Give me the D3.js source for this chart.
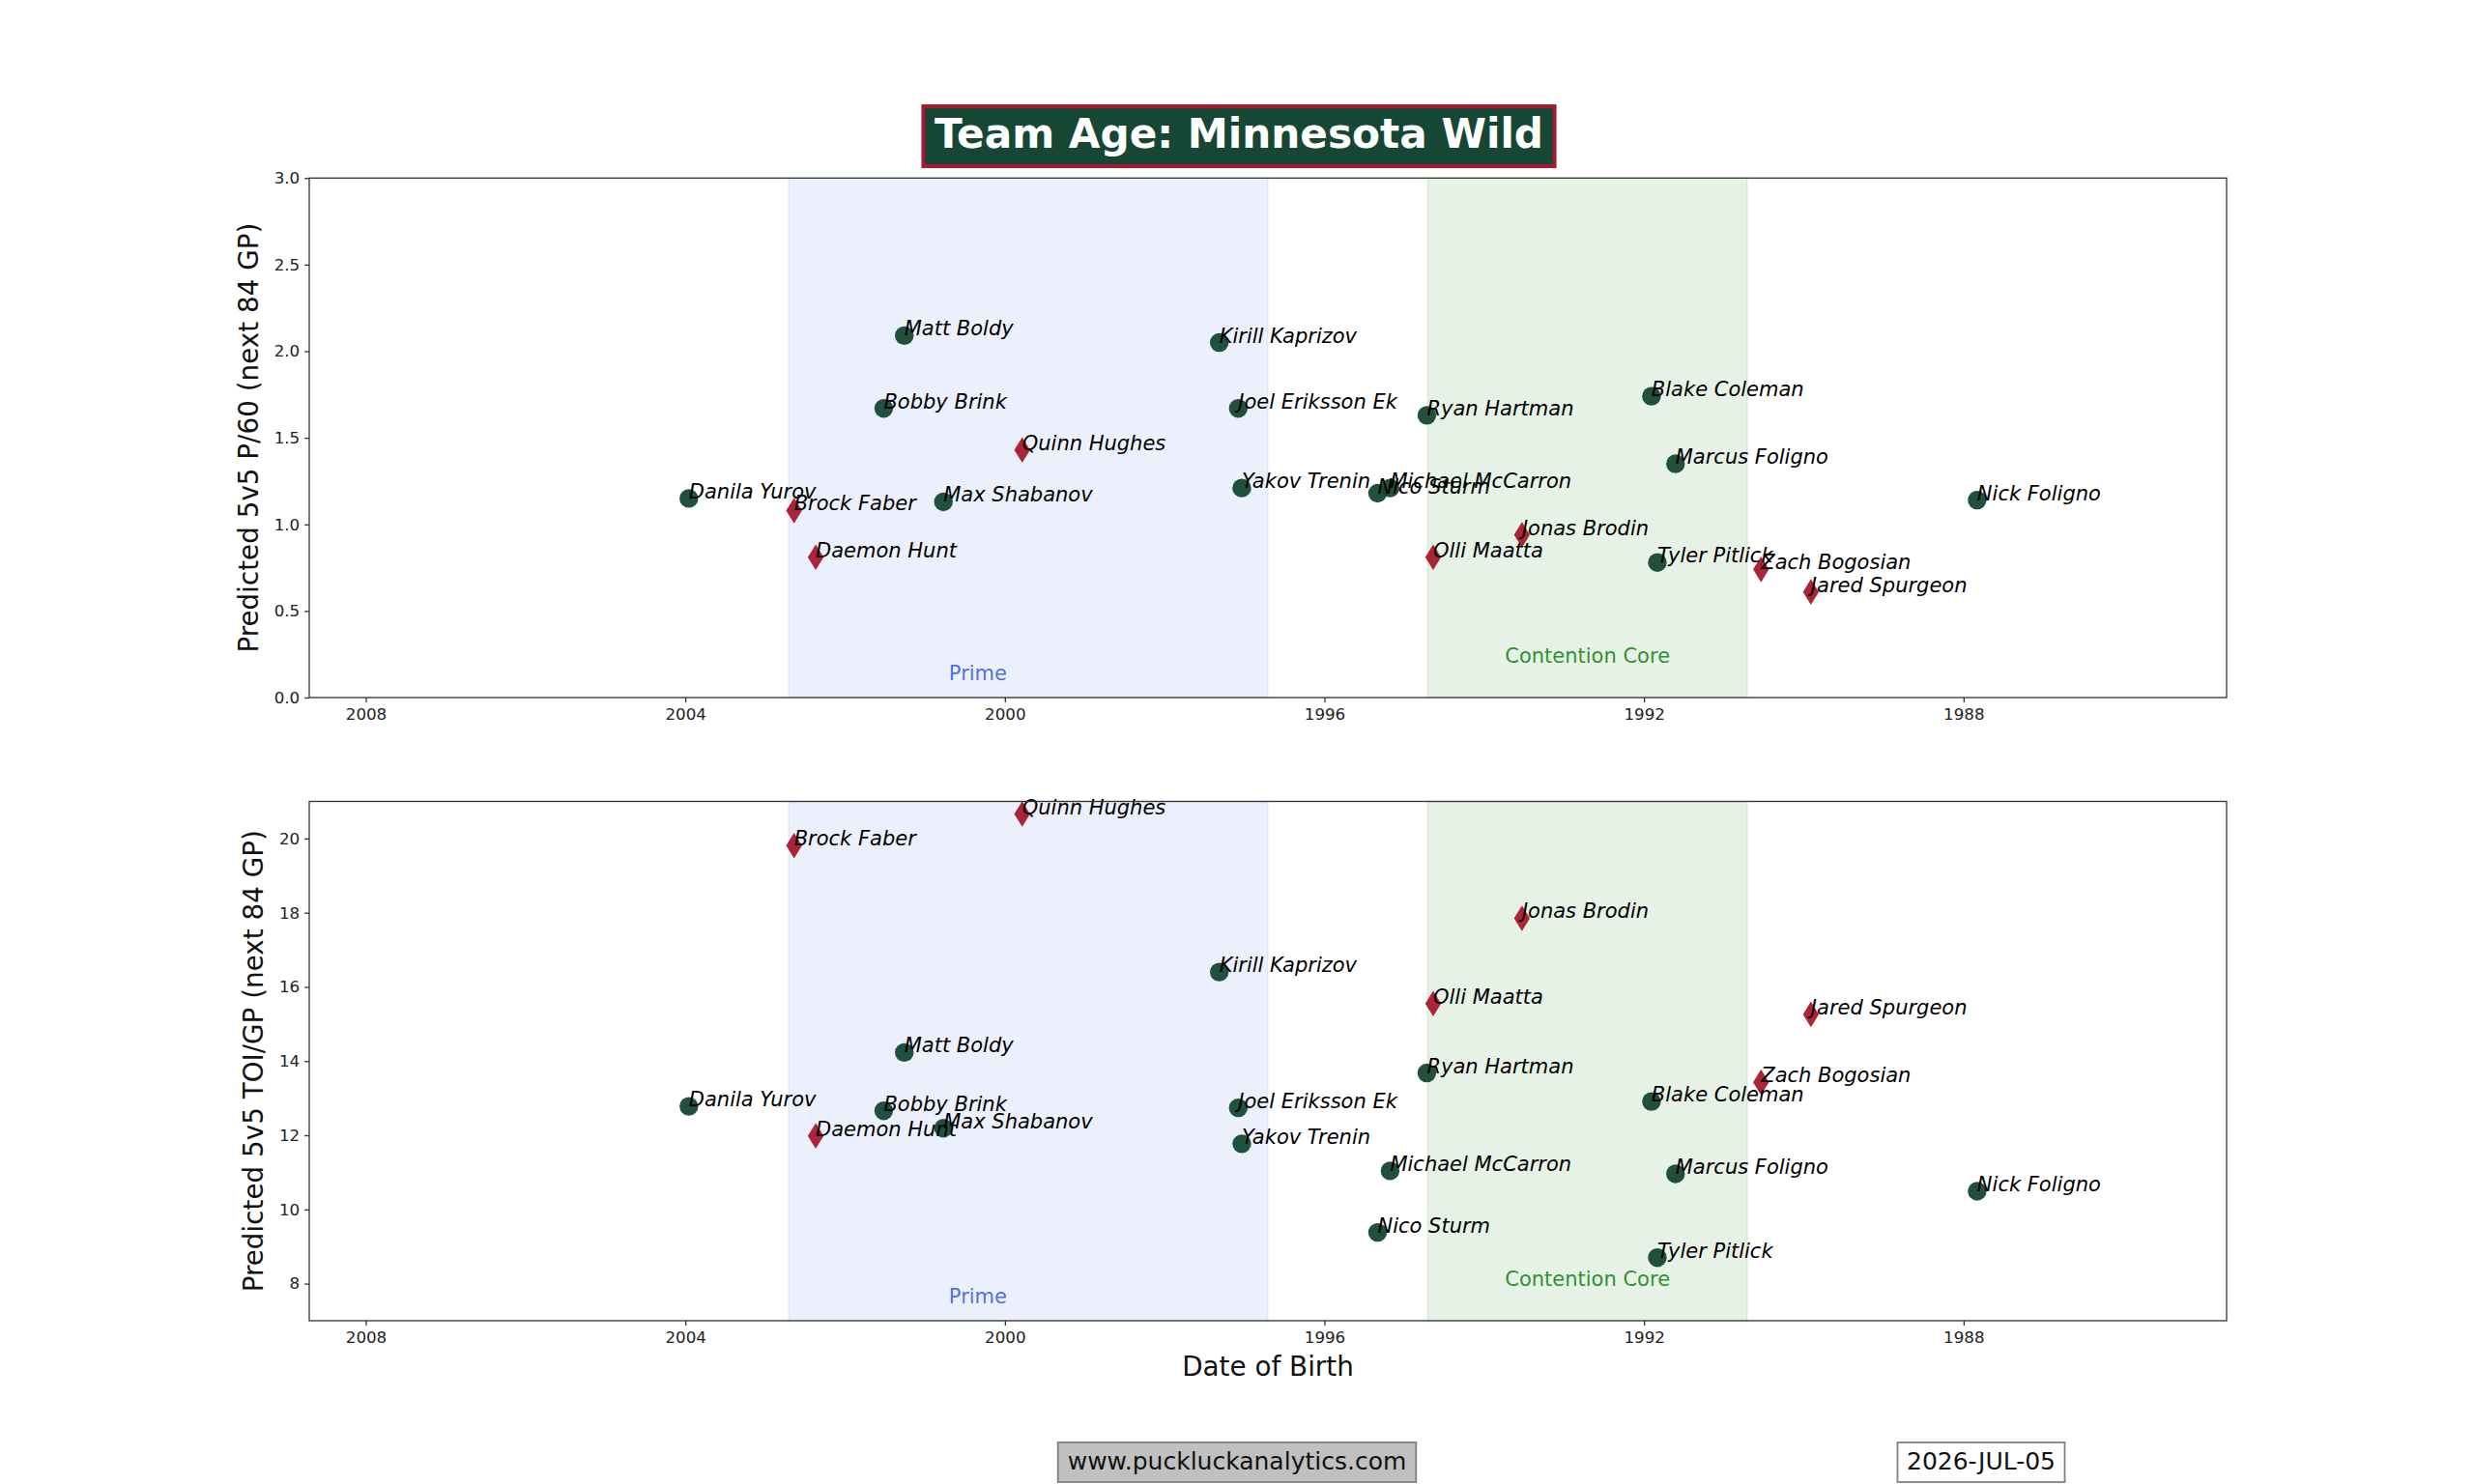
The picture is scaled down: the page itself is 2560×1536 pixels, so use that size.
<!DOCTYPE html>
<html>
<head>
<meta charset="utf-8">
<script src="https://cdn.jsdelivr.net/npm/d3@7"></script>
<style>
  body { margin: 0; background: #fff; }
  svg { display: block; font-family: "DejaVu Sans", sans-serif; }
</style>
</head>
<body>
<div id="chart"></div>
<script>
// roster, birth dates and the two model outputs
const players = ["Danila Yurov", "Brock Faber", "Daemon Hunt", "Bobby Brink", "Matt Boldy", "Max Shabanov",
  "Quinn Hughes", "Kirill Kaprizov", "Joel Eriksson Ek", "Yakov Trenin", "Nico Sturm", "Michael McCarron",
  "Ryan Hartman", "Olli Maatta", "Jonas Brodin", "Blake Coleman", "Tyler Pitlick", "Marcus Foligno",
  "Zach Bogosian", "Jared Spurgeon", "Nick Foligno"];
const positions = ["F", "D", "D", "F", "F", "F", "D", "F", "F", "F", "F", "F", "F", "D", "D", "F", "F", "F", "D", "D", "F"];
const birthDates = ["2003-12-16", "2002-08-22", "2002-05-15", "2001-07-08", "2001-04-05", "2000-10-08",
  "1999-10-14", "1997-04-26", "1997-01-29", "1997-01-13", "1995-05-03", "1995-03-07",
  "1994-09-20", "1994-08-22", "1993-07-12", "1991-11-28", "1991-11-01", "1991-08-10",
  "1990-07-15", "1989-11-29", "1987-10-31"];
const p60 = [1.15, 1.08, 0.81, 1.67, 2.09, 1.13, 1.43, 2.05, 1.67, 1.21, 1.18, 1.21,
  1.63, 0.81, 0.94, 1.74, 0.78, 1.35, 0.74, 0.61, 1.14];
const toi = [12.78, 19.81, 11.98, 12.66, 14.23, 12.19, 20.66, 16.40, 12.74, 11.77, 9.38, 11.04,
  13.68, 15.55, 17.85, 12.91, 8.70, 10.96, 13.43, 15.26, 10.49];

const tickYears = [2008, 2004, 2000, 1996, 1992, 1988];
const ageLimits = [18, 42];
const bandNames = ["Prime", "Contention Core"];
const bandAges = [[24, 30], [32, 36]];
const ageRefDate = "2026-09-16";

const title = "Team Age: Minnesota Wild";
const siteText = "www.puckluckanalytics.com";
const dateText = "2026-JUL-05";

const W = 2560, H = 1536;
const green = "#154734", red = "#a6192e";
const ref = new Date(ageRefDate);
const ageToDate = a => new Date(ref.getTime() - a * 365.25 * 864e5);

const rows = players.map((name, i) => ({
  name, pos: positions[i], dob: new Date(birthDates[i]), p60: p60[i], toi: toi[i]
}));

const svg = d3.select("#chart").append("svg").attr("width", W).attr("height", H);

const x = d3.scaleTime().domain(ageLimits.map(ageToDate)).range([320, 2304]);

const panels = [
  { key: "p60", top: 184.3, bottom: 722, domain: [0, 3], ticks: d3.range(0, 3.01, 0.5), fmt: d3.format(".1f"),
    label: "Predicted 5v5 P/60 (next 84 GP)", labelX: 267 },
  { key: "toi", top: 829.5, bottom: 1367, domain: [7, 21], ticks: d3.range(8, 21, 2), fmt: d3.format("d"),
    label: "Predicted 5v5 TOI/GP (next 84 GP)", labelX: 272 }
];

const bandFill = ["#4169e1", "#008000"];
const bandText = ["#4169e1", "#228b22"];
const bandLabelAge = [26.37, 34];
const bandLabelFrac = [0.034, 0.067];

panels.forEach(p => {
  const y = d3.scaleLinear().domain(p.domain).range([p.bottom, p.top]);
  const g = svg.append("g");
  const h = p.bottom - p.top;

  // age bands
  bandAges.forEach((b, i) => {
    const x0 = x(ageToDate(b[0])), x1 = x(ageToDate(b[1]));
    g.append("rect")
      .attr("x", x0).attr("y", p.top).attr("width", x1 - x0).attr("height", h)
      .attr("fill", bandFill[i]).attr("fill-opacity", 0.1)
      .attr("stroke", bandFill[i]).attr("stroke-opacity", 0.1).attr("stroke-width", 1.5);
    g.append("text")
      .attr("x", x(ageToDate(bandLabelAge[i])))
      .attr("y", p.bottom - bandLabelFrac[i] * h)
      .attr("text-anchor", "middle")
      .attr("font-size", 21)
      .attr("fill", bandText[i])
      .attr("fill-opacity", 0.95)
      .text(bandNames[i]);
  });

  // markers
  g.selectAll("circle.f").data(rows.filter(d => d.pos === "F")).join("circle")
    .attr("cx", d => x(d.dob)).attr("cy", d => y(d[p.key]))
    .attr("r", 9.7).attr("fill", green).attr("fill-opacity", 0.95);

  const diamond = "M0,-13.3L8.2,0L0,13.3L-8.2,0Z";
  g.selectAll("path.d").data(rows.filter(d => d.pos === "D")).join("path")
    .attr("d", diamond)
    .attr("transform", d => `translate(${x(d.dob)},${y(d[p.key])})`)
    .attr("fill", red).attr("fill-opacity", 0.95);

  // names
  g.selectAll("text.name").data(rows).join("text")
    .attr("x", d => x(d.dob)).attr("y", d => y(d[p.key]))
    .attr("font-size", 21)
    .attr("font-style", "italic")
    .attr("fill", "#000")
    .text(d => d.name);

  // axes
  const xAxis = d3.axisBottom(x)
    .tickValues(tickYears.map(yr => new Date(yr, 0, 1)))
    .tickFormat(d3.timeFormat("%Y"))
    .tickSize(4.9).tickPadding(6.5);
  const yAxis = d3.axisLeft(y).tickValues(p.ticks).tickFormat(p.fmt).tickSize(4.9).tickPadding(4.9);

  const ax = svg.append("g").attr("transform", `translate(0,${p.bottom})`).call(xAxis);
  const ay = svg.append("g").attr("transform", "translate(320,0)").call(yAxis);
  [ax, ay].forEach(a => {
    a.select(".domain").remove();
    a.selectAll("line").attr("stroke", "#333").attr("stroke-width", 1.3);
    a.selectAll("text").attr("font-size", 16.7).attr("fill", "#222")
      .attr("font-family", "DejaVu Sans");
  });

  svg.append("rect")
    .attr("x", 320).attr("y", p.top).attr("width", 2304 - 320).attr("height", h)
    .attr("fill", "none").attr("stroke", "#333").attr("stroke-width", 1.3);

  svg.append("text")
    .attr("transform", `translate(${p.labelX},${(p.top + p.bottom) / 2}) rotate(-90)`)
    .attr("text-anchor", "middle")
    .attr("font-size", 27.8)
    .attr("fill", "#111")
    .text(p.label);
});

svg.append("text")
  .attr("x", (320 + 2304) / 2).attr("y", 1424)
  .attr("text-anchor", "middle")
  .attr("font-size", 27.8)
  .attr("fill", "#111")
  .text("Date of Birth");

// boxed texts: title and footer
function boxedText(cx, baseline, txt, opt) {
  const t = svg.append("text")
    .attr("x", cx).attr("y", baseline)
    .attr("text-anchor", "middle")
    .attr("font-size", opt.size)
    .attr("font-weight", opt.weight || "normal")
    .attr("fill", opt.color)
    .text(txt);
  const w = t.node().getComputedTextLength();
  svg.insert("rect", () => t.node())
    .attr("x", cx - w / 2 - opt.padX).attr("y", opt.y0)
    .attr("width", w + 2 * opt.padX).attr("height", opt.y1 - opt.y0)
    .attr("fill", opt.fill).attr("stroke", opt.stroke).attr("stroke-width", opt.sw);
}

boxedText(1282, 153, title, { size: 42.2, weight: "bold", color: "#fff", padX: 11.5, y0: 110, y1: 172,
  fill: green, stroke: red, sw: 4 });
boxedText(1280, 1521, siteText, { size: 25, color: "#111", padX: 10, y0: 1493, y1: 1534,
  fill: "#c0c0c0", stroke: "#808080", sw: 1.8 });
boxedText(2050, 1521, dateText, { size: 25, color: "#111", padX: 9.5, y0: 1493, y1: 1534,
  fill: "#fff", stroke: "#808080", sw: 1.8 });
</script>
</body>
</html>
